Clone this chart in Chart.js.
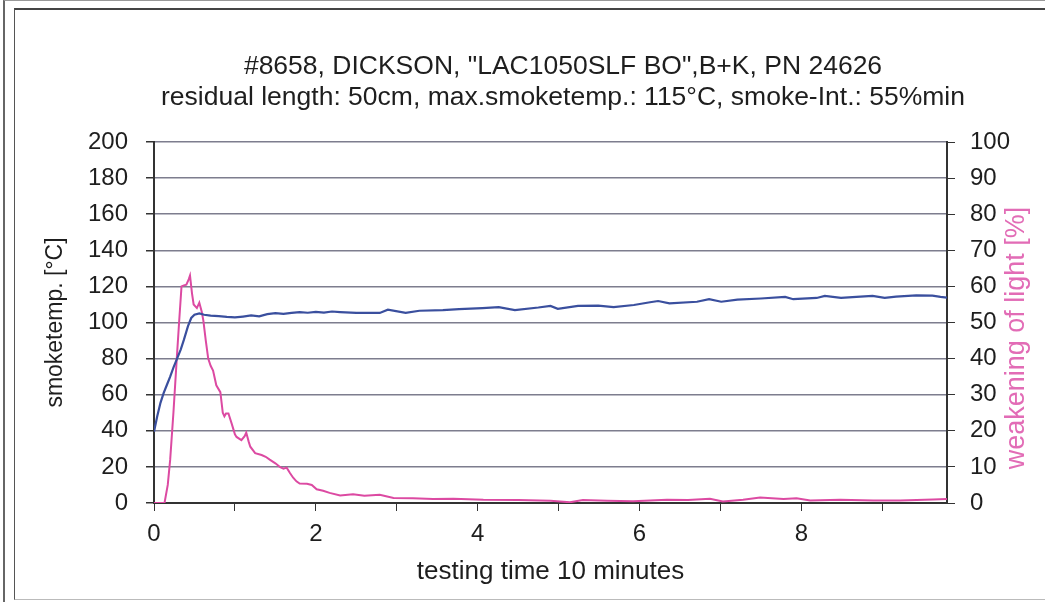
<!DOCTYPE html>
<html lang="en">
<head>
  <meta charset="UTF-8">
  <title>smoke test #8658</title>
  <script src="https://cdn.jsdelivr.net/npm/chart.js"></script>
  <style>
    html, body { margin: 0; padding: 0; background: #fff; }
    body { width: 1045px; height: 602px; position: relative; overflow: hidden; }
    #outer { position: absolute; left: 3px; top: 0; width: 1042px; height: 602px;
      border-left: 2px solid #666; border-top: 1px solid #999; box-sizing: border-box; }
    #frame { position: absolute; left: 14px; top: 8px; width: 1031px; height: 592px;
      border-left: 1px solid #555; border-top: 2px solid #444; border-bottom: 1px solid #bbb; box-sizing: border-box; }
    #wrap { position: absolute; left: 0; top: 0; width: 1045px; height: 602px; }
  </style>
</head>
<body>
  <div id="outer"></div>
  <div id="frame"></div>
  <div id="wrap"><canvas id="chart" width="1045" height="602"></canvas></div>

  <script>
    // values
    const titleLines = [
      '#8658, DICKSON, "LAC1050SLF BO",B+K, PN 24626',
      'residual length: 50cm, max.smoketemp.: 115°C, smoke-Int.: 55%min'
    ];
    const xTitle = 'testing time 10 minutes';
    const leftTitle = 'smoketemp. [°C]';
    const rightTitle = 'weakening of light [%]';

    // smoke temperature [°C] vs minutes
    const tempTime = [0, 0.04, 0.08, 0.12, 0.16, 0.2, 0.24, 0.29, 0.33, 0.37, 0.42, 0.46, 0.5, 0.56, 0.62,
      0.7, 0.8, 0.9, 1.0, 1.1, 1.2, 1.3, 1.4, 1.5, 1.6, 1.7, 1.8, 1.9, 2.0, 2.1, 2.2, 2.3, 2.5, 2.79,
      2.89, 3.11, 3.28, 3.57, 3.77, 4.06, 4.26, 4.46, 4.75, 4.9, 4.99, 5.24, 5.49, 5.68, 5.93, 6.13,
      6.23, 6.37, 6.71, 6.86, 7.01, 7.21, 7.5, 7.8, 7.9, 8.19, 8.29, 8.49, 8.68, 8.88, 9.03, 9.17,
      9.42, 9.62, 9.72, 9.8];
    const tempValues = [39.5, 48, 55.5, 61, 65.5, 70, 75, 80.5, 85, 90.5, 98, 102.5, 104.3, 105, 104.3,
      103.8, 103.5, 103.1, 102.8, 103.3, 103.9, 103.4, 104.6, 105.2, 104.8, 105.3, 105.7, 105.4, 105.9,
      105.5, 106.1, 105.8, 105.3, 105.3, 107.1, 105.3, 106.5, 106.9, 107.4, 108, 108.5, 106.9, 108.3,
      109.2, 107.6, 109.2, 109.4, 108.5, 109.7, 111.2, 111.9, 110.6, 111.5, 112.9, 111.5, 112.7, 113.3,
      114.2, 112.9, 113.6, 114.7, 113.6, 114.2, 114.7, 113.6, 114.3, 115, 114.9, 114.2, 113.8];

    // weakening of light [%] vs minutes
    const smokeTime = [0, 0.13, 0.17, 0.2, 0.24, 0.28, 0.31, 0.34, 0.37, 0.4, 0.43, 0.445, 0.47, 0.49,
      0.53, 0.56, 0.59, 0.61, 0.64, 0.67, 0.7, 0.73, 0.77, 0.82, 0.85, 0.87, 0.89, 0.92, 0.96, 1.0,
      1.02, 1.08, 1.12, 1.14, 1.17, 1.19, 1.25, 1.33, 1.38, 1.43, 1.5, 1.56, 1.6, 1.64, 1.68, 1.72,
      1.76, 1.8, 1.89, 1.95, 2.01, 2.09, 2.17, 2.3, 2.46, 2.6, 2.79, 2.96, 3.2, 3.45, 3.7, 4.07, 4.5,
      4.9, 5.14, 5.3, 5.6, 5.92, 6.34, 6.6, 6.87, 7.03, 7.28, 7.49, 7.78, 7.94, 8.11, 8.48, 8.89,
      9.22, 9.63, 9.8];
    const smokeValues = [0, 0, 5, 12, 25, 39.5, 50, 60, 60.3, 60.5, 62, 63, 58, 55,
      54, 55.5, 53, 50.5, 45, 40, 38, 36.7, 32.6, 30.7, 25, 24, 24.8, 24.8, 22, 19,
      18.3, 17.4, 18.5, 19.5, 17, 15.6, 13.8, 13.3, 12.8, 12, 11, 9.9, 9.5, 9.8, 8.3, 7,
      6, 5.4, 5.3, 5, 3.8, 3.4, 2.8, 2.1, 2.4, 2, 2.3, 1.4, 1.3, 1.1, 1.2, 0.9, 0.8,
      0.65, 0.2, 0.8, 0.6, 0.5, 0.9, 0.8, 1.2, 0.4, 0.9, 1.5, 1.1, 1.3, 0.7, 0.9, 0.7,
      0.7, 1.0, 1.1];

    const FONT = "'Liberation Sans', Arial, sans-serif";
    const INK = '#1e1e1e';
    const GRID = '#7d7d8e';
    const AXIS = '#333';
    const BLUE = '#3a4f9e';
    const PINK = '#dc4aa2';

    // the chart title sits off-centre and the right axis title reads bottom-to-top,
    // so both are drawn here
    const textPlugin = {
      id: 'texts',
      afterDraw(chart) {
        const ctx = chart.ctx;
        ctx.save();
        ctx.font = '26.5px ' + FONT;
        ctx.fillStyle = INK;
        ctx.textAlign = 'center';
        ctx.textBaseline = 'middle';
        ctx.fillText(titleLines[0], 563, 67);
        ctx.fillText(titleLines[1], 563, 98);
        ctx.translate(1017, 338);
        ctx.rotate(-Math.PI / 2);
        ctx.font = '27px ' + FONT;
        ctx.fillStyle = '#e26cb6';
        ctx.fillText(rightTitle, 0, 0);
        ctx.restore();
      }
    };

    new Chart(document.getElementById('chart'), {
      type: 'line',
      data: {
        datasets: [
          {
            label: 'smoketemp',
            data: tempTime.map((t, i) => ({ x: t, y: tempValues[i] })),
            borderColor: BLUE,
            borderWidth: 2.2,
            pointRadius: 0,
            yAxisID: 'y'
          },
          {
            label: 'weakening of light',
            data: smokeTime.map((t, i) => ({ x: t, y: smokeValues[i] })),
            borderColor: PINK,
            borderWidth: 2,
            pointRadius: 0,
            yAxisID: 'y2'
          }
        ]
      },
      options: {
        responsive: false,
        animation: false,
        layout: { padding: { top: 142 } },
        plugins: {
          legend: { display: false },
          tooltip: { enabled: false },
          title: { display: false }
        },
        scales: {
          x: {
            type: 'linear',
            min: 0,
            max: 9.8,
            afterFit: s => { s.height = 99; },
            border: { display: true, color: AXIS, width: 2 },
            grid: { drawOnChartArea: false, drawTicks: true, tickLength: 8, color: AXIS },
            ticks: {
              stepSize: 1,
              includeBounds: false,
              autoSkip: false,
              maxRotation: 0,
              padding: 9,
              color: INK,
              font: { family: FONT, size: 24 },
              callback: v => (v % 2 === 0 ? v : '')
            },
            title: {
              display: true,
              text: xTitle,
              color: INK,
              font: { family: FONT, size: 26, lineHeight: 1.2 },
              padding: { top: 0, bottom: 15 }
            }
          },
          y: {
            position: 'left',
            min: 0,
            max: 200,
            afterFit: s => { s.width = 154; },
            border: { display: true, color: AXIS, width: 2 },
            grid: { color: GRID, lineWidth: 1.5, tickLength: 8, tickColor: AXIS },
            ticks: { stepSize: 20, padding: 18, color: INK, font: { family: FONT, size: 24 } },
            title: {
              display: true,
              text: leftTitle,
              color: INK,
              font: { family: FONT, size: 23, lineHeight: 1.2 },
              padding: { top: 42, bottom: 0 }
            }
          },
          y2: {
            position: 'right',
            min: 0,
            max: 100,
            afterFit: s => { s.width = 98; },
            border: { display: true, color: AXIS, width: 2 },
            grid: { drawOnChartArea: false, tickLength: 8, color: AXIS },
            ticks: { stepSize: 10, padding: 15, color: INK, font: { family: FONT, size: 24 } }
          }
        }
      },
      plugins: [textPlugin]
    });
  </script>
</body>
</html>
